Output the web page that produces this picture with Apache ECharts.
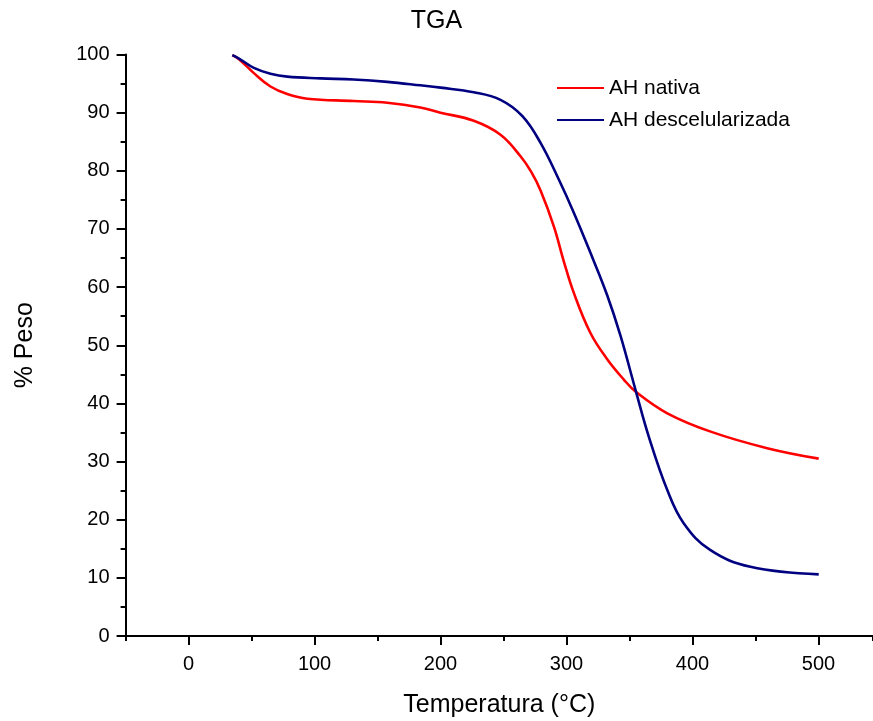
<!DOCTYPE html>
<html>
<head>
<meta charset="utf-8">
<script src="https://cdn.jsdelivr.net/npm/echarts@6/dist/echarts.min.js"></script>
<style>html,body{margin:0;padding:0;background:#fff}#c{width:873px;height:721px}</style>
</head>
<body>
<div id="c"></div>
<script>
var nativaT = [34.7, 40, 51.8, 65, 78.3, 94.2, 131, 157.7, 184, 200, 226.4, 247.6, 263.5, 272, 279.4, 290, 297.9, 305.8, 319, 332.3, 345.5, 355, 380, 415, 459.3, 500.2];
var nativaW = [99.9, 99.2, 96.8, 94.5, 93.2, 92.4, 92.0, 91.7, 90.9, 90.0, 88.6, 86.2, 82.5, 79.8, 76.6, 70.4, 64.4, 59.0, 52.1, 47.6, 44.1, 42.0, 38.3, 35.1, 32.3, 30.5];
var descT = [34.7, 40, 51.8, 65, 78.3, 104.8, 131, 157.7, 184, 200, 226.4, 247.6, 265, 279.4, 293.9, 305.8, 319, 332.3, 342.9, 354.8, 365.3, 380, 393, 414, 446, 500.2];
var descW = [99.9, 99.3, 97.7, 96.7, 96.2, 95.9, 95.7, 95.3, 94.7, 94.3, 93.5, 92.2, 89.4, 84.8, 78.5, 72.8, 65.9, 58.6, 51.6, 42.3, 34.3, 25.1, 19.4, 14.8, 11.9, 10.6];
var xTickLabels = [0, 100, 200, 300, 400, 500];
var seriesNames = ['AH nativa', 'AH descelularizada'];

function pairs(xs, ys) { return xs.map(function (x, i) { return [x, ys[i]]; }); }

var font = 'Liberation Sans, Arial, sans-serif';
var chart = echarts.init(document.getElementById('c'), null, {renderer: 'canvas'});
chart.setOption({
  animation: false,
  backgroundColor: '#fff',
  title: {text: 'TGA', left: 'center', top: 4, textStyle: {fontFamily: font, fontSize: 25, fontWeight: 'normal', color: '#000'}},
  legend: {
    orient: 'vertical', left: 552, top: 72, itemWidth: 47, itemHeight: 2, itemGap: 10,
    icon: 'rect',
    textStyle: {fontFamily: font, fontSize: 21, color: '#000', lineHeight: 22},
    data: seriesNames
  },
  grid: {left: 125.6, right: 0, top: 54.5, bottom: 85, containLabel: false, outerBoundsMode: 'none'},
  xAxis: [{
    type: 'value', min: -50, max: 543.3, interval: 50,
    name: 'Temperatura (°C)', nameLocation: 'middle', nameGap: 57,
    nameTextStyle: {fontFamily: font, fontSize: 25, color: '#000'},
    axisLine: {show: true, onZero: false, lineStyle: {color: '#000', width: 2}},
    axisTick: {show: true, customValues: xTickLabels, length: 9, lineStyle: {color: '#000', width: 2}},
    axisLabel: {customValues: xTickLabels, margin: 18, fontFamily: font, fontSize: 20, color: '#000'},
    splitLine: {show: false}
  }, {
    type: 'value', min: -50, max: 543.3, interval: 50, position: 'bottom',
    axisLine: {show: false, onZero: false},
    axisTick: {show: true, length: 5, lineStyle: {color: '#000', width: 2}},
    axisLabel: {show: false},
    splitLine: {show: false}
  }],
  yAxis: {
    type: 'value', min: 0, max: 100, interval: 10,
    name: '% Peso', nameLocation: 'middle', nameGap: 88,
    nameTextStyle: {fontFamily: font, fontSize: 25, color: '#000'},
    axisLine: {show: true, onZero: false, lineStyle: {color: '#000', width: 2}},
    axisTick: {show: true, length: 9, lineStyle: {color: '#000', width: 2}},
    minorTick: {show: true, splitNumber: 2, length: 5, lineStyle: {color: '#000', width: 2}},
    axisLabel: {margin: 16, fontFamily: font, fontSize: 20, color: '#000'},
    splitLine: {show: false}, minorSplitLine: {show: false}
  },
  series: [{
    name: seriesNames[0], type: 'line', xAxisIndex: 0, smooth: 0.4, showSymbol: false, symbol: 'none',
    lineStyle: {color: '#ff0000', width: 2.6}, itemStyle: {color: '#ff0000'},
    data: pairs(nativaT, nativaW)
  }, {
    name: seriesNames[1], type: 'line', xAxisIndex: 0, smooth: 0.4, showSymbol: false, symbol: 'none',
    lineStyle: {color: '#000080', width: 2.6}, itemStyle: {color: '#000080'},
    data: pairs(descT, descW)
  }]
});
</script>
</body>
</html>
